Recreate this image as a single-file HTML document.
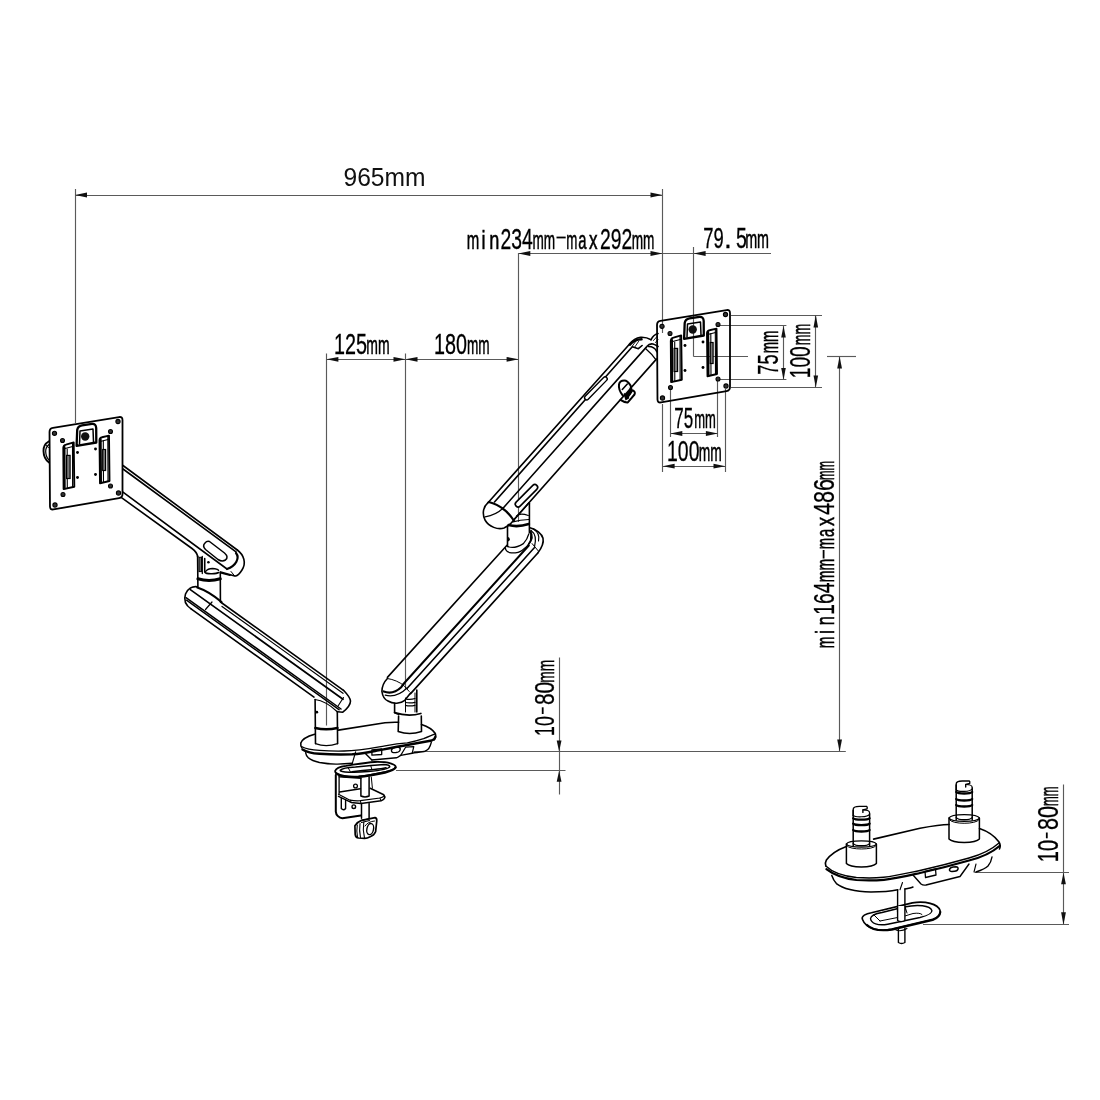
<!DOCTYPE html><html><head><meta charset="utf-8"><style>html,body{margin:0;padding:0;background:#fff;}svg{display:block;will-change:transform}</style></head><body>
<svg width="1100" height="1100" viewBox="0 0 1100 1100">
<rect width="1100" height="1100" fill="#fff"/>
<g>
<text x="466.71" y="248.6" font-family="Liberation Sans" font-size="26.0" fill="#000" stroke="#000" stroke-width="0.55" textLength="12.5" lengthAdjust="spacingAndGlyphs">m</text>
<text x="481.4" y="248.6" font-family="Liberation Sans" font-size="26.0" fill="#000" stroke="#000" stroke-width="0.55" textLength="4.0" lengthAdjust="spacingAndGlyphs">i</text>
<text x="489.28" y="248.6" font-family="Liberation Sans" font-size="26.0" fill="#000" stroke="#000" stroke-width="0.55" textLength="10.1" lengthAdjust="spacingAndGlyphs">n</text>
<text x="500.58" y="248.6" font-family="Liberation Sans" font-size="30.0" fill="#000" stroke="#000" stroke-width="0.3" textLength="32.26" lengthAdjust="spacingAndGlyphs">234</text>
<text x="532.38" y="248.6" font-family="Liberation Sans" font-size="26.0" fill="#000" stroke="#000" stroke-width="0.55" textLength="22.7" lengthAdjust="spacingAndGlyphs">mm</text>
<text x="566.18" y="248.6" font-family="Liberation Sans" font-size="26.0" fill="#000" stroke="#000" stroke-width="0.55" textLength="11.11" lengthAdjust="spacingAndGlyphs">m</text>
<text x="578.17" y="248.6" font-family="Liberation Sans" font-size="26.0" fill="#000" stroke="#000" stroke-width="0.55" textLength="8.27" lengthAdjust="spacingAndGlyphs">a</text>
<text x="588.92" y="248.6" font-family="Liberation Sans" font-size="26.0" fill="#000" stroke="#000" stroke-width="0.55" textLength="8.54" lengthAdjust="spacingAndGlyphs">x</text>
<text x="599.98" y="248.6" font-family="Liberation Sans" font-size="30.0" fill="#000" stroke="#000" stroke-width="0.3" textLength="32.26" lengthAdjust="spacingAndGlyphs">292</text>
<text x="631.75" y="248.6" font-family="Liberation Sans" font-size="26.0" fill="#000" stroke="#000" stroke-width="0.55" textLength="22.72" lengthAdjust="spacingAndGlyphs">mm</text>
</g>
<g>
<text x="703.36" y="248.4" font-family="Liberation Sans" font-size="30.0" fill="#000" stroke="#000" stroke-width="0.3" textLength="20.49" lengthAdjust="spacingAndGlyphs">79</text>
<text x="724.04" y="248.4" font-family="Liberation Sans" font-size="30.0" fill="#000" stroke="#000" stroke-width="0.3" textLength="7.86" lengthAdjust="spacingAndGlyphs">.</text>
<text x="735.9" y="248.4" font-family="Liberation Sans" font-size="30.0" fill="#000" stroke="#000" stroke-width="0.3" textLength="10.84" lengthAdjust="spacingAndGlyphs">5</text>
<text x="745.15" y="248.4" font-family="Liberation Sans" font-size="26.0" fill="#000" stroke="#000" stroke-width="0.55" textLength="23.9" lengthAdjust="spacingAndGlyphs">mm</text>
</g>
<g>
<text x="334.08" y="354.1" font-family="Liberation Sans" font-size="30.0" fill="#000" stroke="#000" stroke-width="0.3" textLength="32.97" lengthAdjust="spacingAndGlyphs">125</text>
<text x="366.34" y="354.1" font-family="Liberation Sans" font-size="26.0" fill="#000" stroke="#000" stroke-width="0.55" textLength="23.33" lengthAdjust="spacingAndGlyphs">mm</text>
</g>
<g>
<text x="434.08" y="354.1" font-family="Liberation Sans" font-size="30.0" fill="#000" stroke="#000" stroke-width="0.3" textLength="32.97" lengthAdjust="spacingAndGlyphs">180</text>
<text x="466.96" y="354.1" font-family="Liberation Sans" font-size="26.0" fill="#000" stroke="#000" stroke-width="0.55" textLength="22.7" lengthAdjust="spacingAndGlyphs">mm</text>
</g>
<g>
<text x="674.37" y="428" font-family="Liberation Sans" font-size="30.0" fill="#000" stroke="#000" stroke-width="0.3" textLength="18.87" lengthAdjust="spacingAndGlyphs">75</text>
<text x="694.16" y="428" font-family="Liberation Sans" font-size="26.0" fill="#000" stroke="#000" stroke-width="0.55" textLength="21.67" lengthAdjust="spacingAndGlyphs">mm</text>
</g>
<g>
<text x="667.08" y="460.7" font-family="Liberation Sans" font-size="30.0" fill="#000" stroke="#000" stroke-width="0.3" textLength="32.38" lengthAdjust="spacingAndGlyphs">100</text>
<text x="698.76" y="460.7" font-family="Liberation Sans" font-size="26.0" fill="#000" stroke="#000" stroke-width="0.55" textLength="23.07" lengthAdjust="spacingAndGlyphs">mm</text>
</g>
<g transform="translate(778.4,0) rotate(-90)">
<text x="-374.64" y="0" font-family="Liberation Sans" font-size="29" fill="#000" stroke="#000" stroke-width="0.3" textLength="20.28" lengthAdjust="spacingAndGlyphs">75</text>
<text x="-353.25" y="0" font-family="Liberation Sans" font-size="26.0" fill="#000" stroke="#000" stroke-width="0.55" textLength="22.7" lengthAdjust="spacingAndGlyphs">mm</text>
</g>
<g transform="translate(810.4,0) rotate(-90)">
<text x="-378.26" y="0" font-family="Liberation Sans" font-size="30.0" fill="#000" stroke="#000" stroke-width="0.3" textLength="31.9" lengthAdjust="spacingAndGlyphs">100</text>
<text x="-345.24" y="0" font-family="Liberation Sans" font-size="26.0" fill="#000" stroke="#000" stroke-width="0.55" textLength="21.29" lengthAdjust="spacingAndGlyphs">mm</text>
</g>
<g transform="translate(553.6,0) rotate(-90)">
<text x="-735.91" y="0" font-family="Liberation Sans" font-size="28" fill="#000" stroke="#000" stroke-width="0.3" textLength="19.72" lengthAdjust="spacingAndGlyphs">10</text>
<text x="-705.05" y="0" font-family="Liberation Sans" font-size="28" fill="#000" stroke="#000" stroke-width="0.3" textLength="23.28" lengthAdjust="spacingAndGlyphs">80</text>
<text x="-682.64" y="0" font-family="Liberation Sans" font-size="24" fill="#000" stroke="#000" stroke-width="0.55" textLength="22.9" lengthAdjust="spacingAndGlyphs">mm</text>
</g>
<g transform="translate(1057.7,0) rotate(-90)">
<text x="-862.29" y="0" font-family="Liberation Sans" font-size="30.0" fill="#000" stroke="#000" stroke-width="0.3" textLength="22.35" lengthAdjust="spacingAndGlyphs">10</text>
<text x="-830.05" y="0" font-family="Liberation Sans" font-size="30.0" fill="#000" stroke="#000" stroke-width="0.3" textLength="24.12" lengthAdjust="spacingAndGlyphs">80</text>
<text x="-806.04" y="0" font-family="Liberation Sans" font-size="26.0" fill="#000" stroke="#000" stroke-width="0.55" textLength="19.49" lengthAdjust="spacingAndGlyphs">mm</text>
</g>
<g transform="translate(834.4,0) rotate(-90)">
<text x="-648.32" y="0" font-family="Liberation Sans" font-size="26.0" fill="#000" stroke="#000" stroke-width="0.55" textLength="11.65" lengthAdjust="spacingAndGlyphs">m</text>
<text x="-634.0" y="0" font-family="Liberation Sans" font-size="26.0" fill="#000" stroke="#000" stroke-width="0.55" textLength="4.0" lengthAdjust="spacingAndGlyphs">i</text>
<text x="-625.15" y="0" font-family="Liberation Sans" font-size="26.0" fill="#000" stroke="#000" stroke-width="0.55" textLength="9.14" lengthAdjust="spacingAndGlyphs">n</text>
<text x="-614.69" y="0" font-family="Liberation Sans" font-size="30.0" fill="#000" stroke="#000" stroke-width="0.3" textLength="32.1" lengthAdjust="spacingAndGlyphs">164</text>
<text x="-582.24" y="0" font-family="Liberation Sans" font-size="26.0" fill="#000" stroke="#000" stroke-width="0.55" textLength="23.33" lengthAdjust="spacingAndGlyphs">mm</text>
<text x="-549.18" y="0" font-family="Liberation Sans" font-size="26.0" fill="#000" stroke="#000" stroke-width="0.55" textLength="11.31" lengthAdjust="spacingAndGlyphs">m</text>
<text x="-537.11" y="0" font-family="Liberation Sans" font-size="26.0" fill="#000" stroke="#000" stroke-width="0.55" textLength="8.15" lengthAdjust="spacingAndGlyphs">a</text>
<text x="-526.06" y="0" font-family="Liberation Sans" font-size="26.0" fill="#000" stroke="#000" stroke-width="0.55" textLength="9.06" lengthAdjust="spacingAndGlyphs">x</text>
<text x="-515.03" y="0" font-family="Liberation Sans" font-size="30.0" fill="#000" stroke="#000" stroke-width="0.3" textLength="36.07" lengthAdjust="spacingAndGlyphs">486</text>
<text x="-480.06" y="0" font-family="Liberation Sans" font-size="26.0" fill="#000" stroke="#000" stroke-width="0.55" textLength="19.06" lengthAdjust="spacingAndGlyphs">mm</text>
</g>
<line x1="556.5" y1="237.5" x2="565.7" y2="237.5" stroke="#000" stroke-width="1.8"/>
<line x1="542.7" y1="714" x2="542.7" y2="707.3" stroke="#000" stroke-width="1.8"/>
<line x1="1046.8" y1="838.3" x2="1046.8" y2="832.5" stroke="#000" stroke-width="1.8"/>
<line x1="823.6" y1="558.5" x2="823.6" y2="550" stroke="#000" stroke-width="1.8"/>
<line x1="75.5" y1="189" x2="75.5" y2="423" stroke="#5a5a5a" stroke-width="1.15"/>
<line x1="75" y1="195.5" x2="662.5" y2="195.5" stroke="#5a5a5a" stroke-width="1.15"/>
<path d="M75.00,195.00 L87.00,192.60 L87.00,197.40 Z" fill="#111"/>
<path d="M662.50,195.00 L650.50,197.40 L650.50,192.60 Z" fill="#111"/>
<line x1="662.5" y1="189" x2="662.5" y2="333" stroke="#5a5a5a" stroke-width="1.15"/>
<text x="343.5" y="186" font-family="Liberation Sans" font-size="25.2" fill="#111" textLength="82" lengthAdjust="spacingAndGlyphs">965mm</text>
<line x1="518.3" y1="253.5" x2="771" y2="253.5" stroke="#5a5a5a" stroke-width="1.15"/>
<path d="M518.30,253.50 L530.30,251.10 L530.30,255.90 Z" fill="#111"/>
<path d="M662.50,253.50 L650.50,255.90 L650.50,251.10 Z" fill="#111"/>
<path d="M693.60,253.50 L705.60,251.10 L705.60,255.90 Z" fill="#111"/>
<line x1="518.5" y1="253" x2="518.5" y2="522" stroke="#5a5a5a" stroke-width="1.15"/>
<line x1="693.5" y1="247" x2="693.5" y2="356.5" stroke="#5a5a5a" stroke-width="1.15"/>
<line x1="693.5" y1="356.5" x2="748" y2="356.5" stroke="#5a5a5a" stroke-width="1.15"/>
<line x1="326.4" y1="359.5" x2="518.6" y2="359.5" stroke="#5a5a5a" stroke-width="1.15"/>
<line x1="326.5" y1="353.6" x2="326.5" y2="725.5" stroke="#5a5a5a" stroke-width="1.15"/>
<line x1="405.5" y1="353.6" x2="405.5" y2="690" stroke="#5a5a5a" stroke-width="1.15"/>
<path d="M326.40,359.30 L338.40,356.90 L338.40,361.70 Z" fill="#111"/>
<path d="M405.50,359.30 L393.50,361.70 L393.50,356.90 Z" fill="#111"/>
<path d="M405.50,359.30 L417.50,356.90 L417.50,361.70 Z" fill="#111"/>
<path d="M518.60,359.30 L506.60,361.70 L506.60,356.90 Z" fill="#111"/>
<line x1="731" y1="315.5" x2="822" y2="315.5" stroke="#5a5a5a" stroke-width="1.15"/>
<line x1="720" y1="325.5" x2="786.4" y2="325.5" stroke="#5a5a5a" stroke-width="1.15"/>
<line x1="720" y1="379.5" x2="786.4" y2="379.5" stroke="#5a5a5a" stroke-width="1.15"/>
<line x1="731" y1="387.5" x2="822" y2="387.5" stroke="#5a5a5a" stroke-width="1.15"/>
<line x1="783.5" y1="325.9" x2="783.5" y2="379.7" stroke="#5a5a5a" stroke-width="1.15"/>
<path d="M783.50,325.90 L785.80,337.50 L781.20,337.50 Z" fill="#111"/>
<path d="M783.50,379.70 L781.20,368.10 L785.80,368.10 Z" fill="#111"/>
<line x1="815.5" y1="315" x2="815.5" y2="387.4" stroke="#5a5a5a" stroke-width="1.15"/>
<path d="M815.80,315.00 L818.10,327.50 L813.50,327.50 Z" fill="#111"/>
<path d="M815.80,387.40 L813.50,375.40 L818.10,375.40 Z" fill="#111"/>
<line x1="827" y1="356.5" x2="856" y2="356.5" stroke="#5a5a5a" stroke-width="1.15"/>
<line x1="839.5" y1="356.6" x2="839.5" y2="751.6" stroke="#5a5a5a" stroke-width="1.15"/>
<path d="M839.60,356.60 L842.00,368.60 L837.20,368.60 Z" fill="#111"/>
<path d="M839.60,751.60 L837.20,739.60 L842.00,739.60 Z" fill="#111"/>
<line x1="413.6" y1="751.5" x2="845.8" y2="751.5" stroke="#5a5a5a" stroke-width="1.15"/>
<line x1="662.5" y1="404" x2="662.5" y2="472" stroke="#5a5a5a" stroke-width="1.15"/>
<line x1="670.5" y1="389" x2="670.5" y2="437" stroke="#5a5a5a" stroke-width="1.15"/>
<line x1="717.5" y1="381" x2="717.5" y2="437" stroke="#5a5a5a" stroke-width="1.15"/>
<line x1="725.5" y1="389" x2="725.5" y2="472" stroke="#5a5a5a" stroke-width="1.15"/>
<line x1="670.3" y1="433.5" x2="717.9" y2="433.5" stroke="#5a5a5a" stroke-width="1.15"/>
<path d="M670.30,433.50 L682.30,431.10 L682.30,435.90 Z" fill="#111"/>
<path d="M717.90,433.50 L705.90,435.90 L705.90,431.10 Z" fill="#111"/>
<line x1="662.6" y1="466.5" x2="725.5" y2="466.5" stroke="#5a5a5a" stroke-width="1.15"/>
<path d="M662.60,466.20 L674.60,463.80 L674.60,468.60 Z" fill="#111"/>
<path d="M725.50,466.20 L713.50,468.60 L713.50,463.80 Z" fill="#111"/>
<line x1="559.5" y1="657.5" x2="559.5" y2="794.5" stroke="#5a5a5a" stroke-width="1.15"/>
<line x1="396" y1="770.5" x2="565.5" y2="770.5" stroke="#5a5a5a" stroke-width="1.15"/>
<path d="M559.10,751.60 L556.70,740.60 L561.50,740.60 Z" fill="#111"/>
<path d="M559.10,770.70 L561.50,781.70 L556.70,781.70 Z" fill="#111"/>
<line x1="974.5" y1="872.5" x2="1069" y2="872.5" stroke="#5a5a5a" stroke-width="1.15"/>
<line x1="923" y1="924.5" x2="1069" y2="924.5" stroke="#5a5a5a" stroke-width="1.15"/>
<line x1="1063.5" y1="784.5" x2="1063.5" y2="924.8" stroke="#5a5a5a" stroke-width="1.15"/>
<path d="M1063.50,872.70 L1065.90,884.20 L1061.10,884.20 Z" fill="#111"/>
<path d="M1063.50,924.80 L1061.10,912.30 L1065.90,912.30 Z" fill="#111"/>
<g id="plate">
<path d="M49.52,432.00 Q49.50,428.50 52.95,427.93 L119.05,417.07 Q122.50,416.50 122.50,420.00 L122.50,494.00 Q122.50,497.50 119.05,498.09 L53.45,509.41 Q50.00,510.00 49.98,506.50 Z" stroke="#000" stroke-width="1.8" fill="none" stroke-linejoin="round" stroke-linecap="round" />
<circle cx="54.5" cy="433.3" r="2.1" fill="#333" stroke="#000" stroke-width="1.1"/>
<circle cx="118" cy="421.5" r="2.1" fill="#333" stroke="#000" stroke-width="1.1"/>
<circle cx="118.5" cy="493" r="2.1" fill="#333" stroke="#000" stroke-width="1.1"/>
<circle cx="55" cy="505" r="2.1" fill="#333" stroke="#000" stroke-width="1.1"/>
<circle cx="62.5" cy="440.5" r="2.0" fill="#333" stroke="#000" stroke-width="1.1"/>
<circle cx="110.5" cy="431.5" r="2.0" fill="#333" stroke="#000" stroke-width="1.1"/>
<circle cx="110.5" cy="486" r="2.0" fill="#333" stroke="#000" stroke-width="1.1"/>
<circle cx="63" cy="494.5" r="2.0" fill="#333" stroke="#000" stroke-width="1.1"/>
<circle cx="77.5" cy="452.5" r="1.45" fill="#000"/>
<circle cx="95.5" cy="449" r="1.45" fill="#000"/>
<circle cx="77.5" cy="477.5" r="1.45" fill="#000"/>
<circle cx="95.5" cy="474.5" r="1.45" fill="#000"/>
<path d="M76.6,445.8 L77.2,430 Q77.8,426 82,425.3 L92,423.8 Q96,423.5 96.2,428 L96.3,442.5 Z" stroke="#000" stroke-width="2.3" fill="none" stroke-linejoin="round" stroke-linecap="round" />
<path d="M79.5,444 L80,431 L93,429 L93.5,442" stroke="#000" stroke-width="1.5" fill="none" stroke-linejoin="round" stroke-linecap="round" />
<circle cx="85.2" cy="436.5" r="4.2" fill="#111"/>
<path d="M63.3,447.7 Q63.5,445 66,444.6 L73.7,442.4 L74.3,486.7 L63.6,489.1 Z" stroke="#000" stroke-width="1.9" fill="none" stroke-linejoin="round" stroke-linecap="round" />
<path d="M64.6,447 L64.8,488.5" stroke="#000" stroke-width="1.8" fill="none" stroke-linejoin="round" stroke-linecap="round" />
<path d="M67.2,449 L67.3,487.8 M72.5,443.5 L72.6,486.5" stroke="#000" stroke-width="1.1" fill="none" stroke-linejoin="round" stroke-linecap="round" />
<path d="M64.2,448.8 L73.6,446.2" stroke="#000" stroke-width="1.1" fill="none" stroke-linejoin="round" stroke-linecap="round" />
<rect x="66.6" y="455.4" width="3.5" height="23.1" fill="#777" stroke="#000" stroke-width="1.2"/>
<path d="M99.5,440 Q99.8,437.6 102,437.2 L109,435.6 L109.5,481 L100,483.2 Z" stroke="#000" stroke-width="1.9" fill="none" stroke-linejoin="round" stroke-linecap="round" />
<path d="M100.8,439.5 L101.1,482.8" stroke="#000" stroke-width="1.8" fill="none" stroke-linejoin="round" stroke-linecap="round" />
<path d="M103.3,440.5 L103.5,482.2 M107.8,436.5 L108,480.5" stroke="#000" stroke-width="1.1" fill="none" stroke-linejoin="round" stroke-linecap="round" />
<path d="M100.3,441.5 L109,439.3" stroke="#000" stroke-width="1.1" fill="none" stroke-linejoin="round" stroke-linecap="round" />
<rect x="102.7" y="449.5" width="2.9" height="21" fill="#777" stroke="#000" stroke-width="1.2"/>
</g>
<use href="#plate" transform="translate(607.5,-107)"/>
<path d="M49,441.2 C45,443.5 43.3,447 43.5,451 C43.6,456 45.5,460 49,462.5" stroke="#000" stroke-width="1.9" fill="none" stroke-linejoin="round" stroke-linecap="round" />
<path d="M49,444.5 C46.5,446.5 45.6,449 45.7,451.5 C45.8,455 47,458 49,460" stroke="#000" stroke-width="1.2" fill="none" stroke-linejoin="round" stroke-linecap="round" />
<path d="M46,445.2 L48.5,447.5" stroke="#000" stroke-width="1.0" fill="none" stroke-linejoin="round" stroke-linecap="round" />
<path d="M123,465.5 L237.3,550" stroke="#000" stroke-width="1.6" fill="none" stroke-linejoin="round" stroke-linecap="round" />
<path d="M123,469 L236,551.8" stroke="#000" stroke-width="1.6" fill="none" stroke-linejoin="round" stroke-linecap="round" />
<path d="M123,492.2 L227,569" stroke="#000" stroke-width="1.6" fill="none" stroke-linejoin="round" stroke-linecap="round" />
<path d="M121.5,497.6 L192,548.5 Q197,552 197.8,557" stroke="#000" stroke-width="1.6" fill="none" stroke-linejoin="round" stroke-linecap="round" />
<path d="M237.3,550 C244,555 246.5,563 242,570 C239.5,574 237,576.5 234.7,576 L220.7,572" stroke="#000" stroke-width="1.6" fill="none" stroke-linejoin="round" stroke-linecap="round" />
<path d="M236,553 C240,558 236,566 227,569" stroke="#000" stroke-width="2.2" fill="none" stroke-linejoin="round" stroke-linecap="round" />
<path d="M231,571.5 L234.7,576" stroke="#000" stroke-width="1" fill="none" stroke-linejoin="round" stroke-linecap="round" />
<path d="M209.5,541.5 L224.5,553 Q229,557 225.5,560 Q222,562 218,559.5 L205.5,549.5 Q202,546 205,543 Q207,540.5 209.5,541.5 Z" stroke="#000" stroke-width="1.5" fill="none" stroke-linejoin="round" stroke-linecap="round" />
<path d="M197.6,556 L197.9,586.8" stroke="#000" stroke-width="1.6" fill="none" stroke-linejoin="round" stroke-linecap="round" />
<path d="M220.3,572 L220.4,601.8" stroke="#000" stroke-width="1.6" fill="none" stroke-linejoin="round" stroke-linecap="round" />
<path d="M197.9,578.8 Q209,582 220.3,578.8" stroke="#000" stroke-width="3.0" fill="none" stroke-linejoin="round" stroke-linecap="round" />
<rect x="199" y="557.3" width="2.5" height="14.3" fill="#666" stroke="#000" stroke-width="1"/>
<path d="M202.3,556.5 L202.3,573.6" stroke="#000" stroke-width="1.3" fill="none" stroke-linejoin="round" stroke-linecap="round" />
<path d="M204.7,558.5 L204.7,572 Q206,574 212,573.8 Q217,573.5 218.6,572.5" stroke="#000" stroke-width="1.6" fill="none" stroke-linejoin="round" stroke-linecap="round" />
<path d="M205.5,571.6 C207,569.5 210,568.5 212.5,568.5 C215.5,568.6 218,569.5 218.6,570.4" stroke="#000" stroke-width="1.3" fill="none" stroke-linejoin="round" stroke-linecap="round" />
<circle cx="208.4" cy="562.2" r="1.3" fill="#000"/>
<path d="M220.3,572.8 L230,575.3" stroke="#000" stroke-width="1.5" fill="none" stroke-linejoin="round" stroke-linecap="round" />
<path d="M220.5,602.0 L343.5,690.3" stroke="#000" stroke-width="1.6" fill="none" stroke-linejoin="round" stroke-linecap="round" />
<path d="M222,606.4 L343,693.3" stroke="#000" stroke-width="1.2" fill="none" stroke-linejoin="round" stroke-linecap="round" />
<path d="M190.3,589.6 L343,699.3" stroke="#000" stroke-width="1.7" fill="none" stroke-linejoin="round" stroke-linecap="round" />
<path d="M186,597.7 L341,709.0" stroke="#000" stroke-width="1.5" fill="none" stroke-linejoin="round" stroke-linecap="round" />
<path d="M186.5,600.2 L339,709.7" stroke="#000" stroke-width="1.5" fill="none" stroke-linejoin="round" stroke-linecap="round" />
<path d="M191.4,609.1 L314,697.1" stroke="#000" stroke-width="1.6" fill="none" stroke-linejoin="round" stroke-linecap="round" />
<path d="M197.3,586.8 C192,586 187.5,589 185.5,594 C183.5,600 185,605 191.4,609.1" stroke="#000" stroke-width="1.6" fill="none" stroke-linejoin="round" stroke-linecap="round" />
<path d="M197.3,587.5 C205,590 212,594 221.5,602" stroke="#000" stroke-width="2.2" fill="none" stroke-linejoin="round" stroke-linecap="round" />
<path d="M212,602 L205.5,609.5" stroke="#000" stroke-width="1.2" fill="none" stroke-linejoin="round" stroke-linecap="round" />
<path d="M343.5,690.3 Q350,697 350.5,701 Q350.5,706 342.8,712.2 L337.5,711.8" stroke="#000" stroke-width="1.6" fill="none" stroke-linejoin="round" stroke-linecap="round" />
<path d="M343.5,697.5 L338.2,705.8" stroke="#000" stroke-width="1.1" fill="none" stroke-linejoin="round" stroke-linecap="round" />
<path d="M315.1,699.5 L315.5,743.6" stroke="#000" stroke-width="1.6" fill="none" stroke-linejoin="round" stroke-linecap="round" />
<path d="M337.3,711.5 L337.6,743.6" stroke="#000" stroke-width="1.6" fill="none" stroke-linejoin="round" stroke-linecap="round" />
<path d="M315,699.5 Q326,701 337,711.5" stroke="#000" stroke-width="1.2" fill="none" stroke-linejoin="round" stroke-linecap="round" />
<path d="M315.3,728 Q326,730.5 337.5,728" stroke="#000" stroke-width="2.4" fill="none" stroke-linejoin="round" stroke-linecap="round" />
<circle cx="316.8" cy="712.2" r="1.4" fill="#000"/>
<path d="M488,502.7 L629.4,344.2 C632,341 636,338 640.5,337.3 C645,337 649,338.5 651.1,339.7" stroke="#000" stroke-width="1.6" fill="none" stroke-linejoin="round" stroke-linecap="round" />
<path d="M651.1,339.7 C652.5,336.5 655,334.5 658,333.6" stroke="#000" stroke-width="1.6" fill="none" stroke-linejoin="round" stroke-linecap="round" />
<path d="M653.5,340.5 L657,336.5 M655.5,342.5 L658,339.5" stroke="#000" stroke-width="0.9" fill="none" stroke-linejoin="round" stroke-linecap="round" />
<path d="M629.8,344.5 C633,341 637,339.3 641.5,339.2" stroke="#000" stroke-width="2.6" fill="none" stroke-linejoin="round" stroke-linecap="round" />
<path d="M632.2,346.2 L636.3,340.6 M634.6,347.3 L638.6,341.4" stroke="#000" stroke-width="0.9" fill="none" stroke-linejoin="round" stroke-linecap="round" />
<path d="M494.5,502 L632.3,346.7 L638.4,348.7 L642.1,345.5" stroke="#000" stroke-width="1.6" fill="none" stroke-linejoin="round" stroke-linecap="round" />
<path d="M502.8,508.5 L646.8,346.6 C648.5,344.5 651,343.5 653,344 C655,344.5 656.5,345.5 658,346.5" stroke="#000" stroke-width="1.6" fill="none" stroke-linejoin="round" stroke-linecap="round" />
<path d="M645.5,348.5 C649,351.5 653,355.5 656,359.8" stroke="#000" stroke-width="1.3" fill="none" stroke-linejoin="round" stroke-linecap="round" />
<path d="M648.5,346.5 C652,346.5 655.5,348.5 656.8,351.6" stroke="#000" stroke-width="1.6" fill="none" stroke-linejoin="round" stroke-linecap="round" />
<path d="M513.5,520.2 L656.4,359.1" stroke="#000" stroke-width="1.6" fill="none" stroke-linejoin="round" stroke-linecap="round" />
<path d="M586.7,397.7 L605.1,378.9" stroke="#000" stroke-width="5.6" stroke-linecap="round"/>
<path d="M586.7,397.7 L605.1,378.9" stroke="#fff" stroke-width="2.8000000000000003" stroke-linecap="round"/>
<path d="M518.1,504.1 L534.8,487.4" stroke="#000" stroke-width="7.199999999999999" stroke-linecap="round"/>
<path d="M518.1,504.1 L534.8,487.4" stroke="#fff" stroke-width="3.9999999999999996" stroke-linecap="round"/>
<path d="M623.5,394 L629,387.5 L633,391 L629,398.5 L625.5,400.5 Z" fill="#000"/>
<path d="M622.7,395.4 C620,392 618.5,388 619,384.5 C619.5,381.5 621.5,380.5 624.3,380.5 C626.5,380.5 628.5,382 630.7,385.8 L631.5,390" stroke="#000" stroke-width="2.0" fill="none" stroke-linejoin="round" stroke-linecap="round" />
<path d="M622.3,389.5 L627.3,384" stroke="#000" stroke-width="1.6" fill="none" stroke-linejoin="round" stroke-linecap="round" />
<path d="M620.5,399.8 C623,401.5 625.5,402.6 627.8,402.4 L634.5,394.5 C635.5,392.5 634.5,390.5 631.6,390.3" stroke="#000" stroke-width="2.0" fill="none" stroke-linejoin="round" stroke-linecap="round" />
<path d="M624,392.5 L628.5,387.5 L629.5,388.5 L625,393.6 Z" fill="#fff"/>
<path d="M629.5,398.5 L633,394 Q633.5,392.5 632.5,392.5 L629,397 Z" fill="#fff"/>
<path d="M488,502.7 C483,507 482,514 485,520 C489,527 498,530 504,528 Q509,526 513.5,520.5" stroke="#000" stroke-width="1.6" fill="none" stroke-linejoin="round" stroke-linecap="round" />
<path d="M485.1,516.8 Q496,515 502.7,508.5" stroke="#000" stroke-width="1.2" fill="none" stroke-linejoin="round" stroke-linecap="round" />
<path d="M488.8,502 C497,504 507,510 513.8,520.5" stroke="#000" stroke-width="2.2" fill="none" stroke-linejoin="round" stroke-linecap="round" />
<path d="M513.5,520.2 L529,502.7" stroke="#000" stroke-width="1.4" fill="none" stroke-linejoin="round" stroke-linecap="round" />
<path d="M507.5,526.2 L507.5,546.4" stroke="#000" stroke-width="1.6" fill="none" stroke-linejoin="round" stroke-linecap="round" />
<path d="M529.4,503.3 L529.4,532.7" stroke="#000" stroke-width="1.6" fill="none" stroke-linejoin="round" stroke-linecap="round" />
<path d="M516.5,516 Q520,512.5 528.3,515.5" stroke="#000" stroke-width="1.2" fill="none" stroke-linejoin="round" stroke-linecap="round" />
<path d="M513,521.8 Q520,520 528.8,519.5" stroke="#000" stroke-width="1.2" fill="none" stroke-linejoin="round" stroke-linecap="round" />
<path d="M508.6,525.1 Q518,527.5 528.8,524" stroke="#000" stroke-width="2.6" fill="none" stroke-linejoin="round" stroke-linecap="round" />
<path d="M507.5,546.4 Q514,549.5 523.4,543.6 Q527.5,539 528.8,533.8" stroke="#000" stroke-width="1.3" fill="none" stroke-linejoin="round" stroke-linecap="round" />
<path d="M505.4,548 Q505.5,552 511.4,552.9 Q519,553 522.3,550.2 Q528,546 530.5,541.5 L531,530.5" stroke="#000" stroke-width="1.3" fill="none" stroke-linejoin="round" stroke-linecap="round" />
<path d="M507.6,537 A2.2,2.2 0 0 1 507.6,541.5 Z" fill="#000"/>
<path d="M387.4,677.4 L507,545.3" stroke="#000" stroke-width="1.6" fill="none" stroke-linejoin="round" stroke-linecap="round" />
<path d="M403.4,684.0 L528.8,545.5" stroke="#000" stroke-width="2.0" fill="none" stroke-linejoin="round" stroke-linecap="round" />
<path d="M407,688.5 L534.3,547.8" stroke="#000" stroke-width="1.6" fill="none" stroke-linejoin="round" stroke-linecap="round" />
<path d="M410.6,693.6 L537.6,553.3" stroke="#000" stroke-width="1.6" fill="none" stroke-linejoin="round" stroke-linecap="round" />
<path d="M529.9,527.8 C536,529 542,534 543,538.2 C544,543 541,549 537.6,553.3" stroke="#000" stroke-width="1.6" fill="none" stroke-linejoin="round" stroke-linecap="round" />
<path d="M531,530.5 Q537.5,535 534.5,546.8" stroke="#000" stroke-width="1.2" fill="none" stroke-linejoin="round" stroke-linecap="round" />
<path d="M530.5,532 Q534,537 528.8,544" stroke="#000" stroke-width="1.8" fill="none" stroke-linejoin="round" stroke-linecap="round" />
<path d="M533,528.8 Q540.5,533.5 538.5,541" stroke="#000" stroke-width="1.1" fill="none" stroke-linejoin="round" stroke-linecap="round" />
<path d="M532.1,543.6 L538.1,550.7" stroke="#000" stroke-width="1.0" fill="none" stroke-linejoin="round" stroke-linecap="round" />
<path d="M387.4,678.5 Q382,684 381.9,691.5 Q383,699 388,701 Q392,703.5 396.8,703.2 Q402,702.5 404.8,700.3 L410.6,693" stroke="#000" stroke-width="1.6" fill="none" stroke-linejoin="round" stroke-linecap="round" />
<path d="M387.4,678.5 Q397,680 404,685.7 L409.2,691.5" stroke="#000" stroke-width="1" fill="none" stroke-linejoin="round" stroke-linecap="round" />
<path d="M383.7,691.5 Q393,695 401.2,687.2 L403.4,684.3" stroke="#000" stroke-width="2.2" fill="none" stroke-linejoin="round" stroke-linecap="round" />
<path d="M385.2,695.2 Q397,698 407,688" stroke="#000" stroke-width="1.2" fill="none" stroke-linejoin="round" stroke-linecap="round" />
<path d="M394.6,703.2 L394.6,712.6 Q398,714.5 399,714" stroke="#000" stroke-width="1.6" fill="none" stroke-linejoin="round" stroke-linecap="round" />
<path d="M416.8,690 L416.8,712" stroke="#000" stroke-width="1.6" fill="none" stroke-linejoin="round" stroke-linecap="round" />
<path d="M405.5,698 L405.5,712 M415,693 L415,712" stroke="#000" stroke-width="1" fill="none" stroke-linejoin="round" stroke-linecap="round" />
<path d="M405.5,698.8 Q410,700 415,698.5 M405.5,702.5 Q410,703.5 415,702.3 M405.5,705.4 Q410,706.5 415,705.3" stroke="#000" stroke-width="1.2" fill="none" stroke-linejoin="round" stroke-linecap="round" />
<path d="M398.6,716 L398.2,731.4 Q409.5,735.5 421.5,731.4 L421.3,716" stroke="#000" stroke-width="1.6" fill="none" stroke-linejoin="round" stroke-linecap="round" />
<path d="M394.6,712.6 Q408,717 420.8,713.5" stroke="#000" stroke-width="1.8" fill="none" stroke-linejoin="round" stroke-linecap="round" />
<path d="M314.6,734.2 C308,736 302,739.5 300.8,743 C300.5,745.5 301,747 302,748" stroke="#000" stroke-width="1.6" fill="none" stroke-linejoin="round" stroke-linecap="round" />
<path d="M338.4,730.1 L385,722.8 Q392,722 398.6,722.3" stroke="#000" stroke-width="1.6" fill="none" stroke-linejoin="round" stroke-linecap="round" />
<path d="M421.5,724.5 C428,726.5 433,730 435.3,733.5 C436.2,736 435.8,738 434,740" stroke="#000" stroke-width="1.6" fill="none" stroke-linejoin="round" stroke-linecap="round" />
<path d="M301.5,746.5 C306,749 312,750 319.5,750.4 C328,751 336,751.2 344.1,751 C360,750.5 372,748 385,745.8 C395,744 402,743.2 407.3,742.8 C414,741.5 420,739.8 423.6,738.6 C428,737 432,735 435.3,733.8" stroke="#000" stroke-width="1.3" fill="none" stroke-linejoin="round" stroke-linecap="round" />
<path d="M302.5,749.5 C307,752.5 313,753.5 319.5,753.8 C330,754.5 340,754.6 352.3,754.3 C362,753.8 370,752 376.8,750.6 C388,748.5 398,746.6 408.4,744.8 C418,743 426,741.5 431.8,740.5 C434,739.5 435,738.5 435.3,737" stroke="#000" stroke-width="2.4" fill="none" stroke-linejoin="round" stroke-linecap="round" />
<path d="M305.6,752.6 C306,755 307,756.5 308.1,757.6 C311,760 315,761.5 319.5,762.5 C325,763.5 330,764 335.9,764.1 C341,764.2 347,763.8 352.3,763.3" stroke="#000" stroke-width="1.4" fill="none" stroke-linejoin="round" stroke-linecap="round" />
<path d="M371.9,760 C375,759.6 378,759.5 380,759.3 C386,758.8 392,758.2 396.4,757.8 C398,757.2 398.8,756.8 399.1,756.3 L400.7,755.4 L412.2,753.2 C416,752.5 420,752 424.7,751.4 C426.5,750.5 427.5,750 428.6,748.8 C430,746.5 430.8,744.5 431.3,742.3" stroke="#000" stroke-width="1.4" fill="none" stroke-linejoin="round" stroke-linecap="round" />
<path d="M355.6,751.8 L352.3,763.3" stroke="#000" stroke-width="1.2" fill="none" stroke-linejoin="round" stroke-linecap="round" />
<path d="M365.4,753.5 L371.9,760" stroke="#000" stroke-width="1.4" fill="none" stroke-linejoin="round" stroke-linecap="round" />
<path d="M400.7,755.4 L405.6,747.2 L413.8,746.6 L412.2,753.2" stroke="#000" stroke-width="1.2" fill="none" stroke-linejoin="round" stroke-linecap="round" />
<path d="M371.9,749.8 L381.7,749 L381.7,754.5 L371.9,755.2 Z" stroke="#000" stroke-width="1.3" fill="none" stroke-linejoin="round" stroke-linecap="round" />
<path d="M391.5,750 Q392,747.8 395.5,747.4 L398.5,747.2 Q400.5,747.6 400.2,749.5 Q399.8,752.2 396,752.5 L393.5,752.6 Q391.2,752.4 391.5,750 Z" stroke="#000" stroke-width="1.4" fill="none" stroke-linejoin="round" stroke-linecap="round" />
<path d="M315.5,743.6 Q326,747.5 337.6,743.6" stroke="#000" stroke-width="1.3" fill="none" stroke-linejoin="round" stroke-linecap="round" />
<path d="M335.1,770.9 C336,768 340,766.5 345.9,765.8 C355,764.5 365,762.7 374.6,762 C382,761.8 387,762.3 390.5,763.3 C394,764.3 396,765.5 395.6,767.1 C395,769.5 388,771.5 380.9,772.8 C373,774.5 365,776 358.6,776.6 C350,777 342,776.5 339.5,775.4 C336.5,774 335,772.5 335.1,770.9 Z" stroke="#000" stroke-width="1.8" fill="none" stroke-linejoin="round" stroke-linecap="round" />
<path d="M340.2,770.3 C342,768.5 348,767.5 355.5,767.1 C365,766 375,765 384.1,764.5 C387,764.5 389.5,765.5 389.8,766.8 C389,768.5 380,770.5 368.2,771.6 C360,772.3 354,772.5 349.1,772.2 C343,771.8 340,771.3 340.2,770.3 Z" stroke="#000" stroke-width="1.5" fill="none" stroke-linejoin="round" stroke-linecap="round" />
<path d="M336.5,773.5 C341,776 350,777.2 358.6,776.8 C368,776 378,774 385,772.5 C391,771 394.5,769.5 395.6,767.5" stroke="#000" stroke-width="2.4" fill="none" stroke-linejoin="round" stroke-linecap="round" />
<path d="M350.4,771.8 L348.3,768 M370.7,765.6 L372,769.8" stroke="#000" stroke-width="1.0" fill="none" stroke-linejoin="round" stroke-linecap="round" />
<path d="M352,771.8 Q362,770.5 374,769.5 Q382,768.8 386,767.8" stroke="#000" stroke-width="1.6" fill="none" stroke-linejoin="round" stroke-linecap="round" />
<path d="M335.8,775 L335.8,811.6 C336,815 339,818.2 342.4,818.2 L360.9,815.5" stroke="#000" stroke-width="2.0" fill="none" stroke-linejoin="round" stroke-linecap="round" />
<path d="M339.1,776.2 L339.1,793.6" stroke="#000" stroke-width="1.3" fill="none" stroke-linejoin="round" stroke-linecap="round" />
<path d="M339.1,777 L361,778.5" stroke="#000" stroke-width="1.0" fill="none" stroke-linejoin="round" stroke-linecap="round" />
<circle cx="355.5" cy="786" r="1.9" fill="none" stroke="#000" stroke-width="1.3"/>
<path d="M339.6,792 L360.4,788.7 M370.2,788.2 L383.8,794.7 Q385.5,796.5 384.4,798.5 Q383,800.2 381.1,800.7 L360.9,803.5 L351.1,802.4 L338.5,796.4" stroke="#000" stroke-width="1.5" fill="none" stroke-linejoin="round" stroke-linecap="round" />
<path d="M338.5,794.2 L350,800.2 Q355,801 360.4,800.7 L380,798 Q383.5,797.3 384.2,795.5" stroke="#000" stroke-width="1.2" fill="none" stroke-linejoin="round" stroke-linecap="round" />
<path d="M350.5,800.2 L351.1,802.4 M360.4,800.7 L360.9,803.5 M380,798 L380.8,800.7" stroke="#000" stroke-width="1.0" fill="none" stroke-linejoin="round" stroke-linecap="round" />
<path d="M360.9,778 L360.9,796 Q365,797.8 369.1,796 L369.1,777" stroke="#000" stroke-width="1.5" fill="none" stroke-linejoin="round" stroke-linecap="round" />
<path d="M371.3,777 L372.4,788.2" stroke="#000" stroke-width="1.0" fill="none" stroke-linejoin="round" stroke-linecap="round" />
<path d="M361.5,803.5 L361.5,818.2 M369.1,803.5 L369.1,818.2" stroke="#000" stroke-width="1.5" fill="none" stroke-linejoin="round" stroke-linecap="round" />
<path d="M341.3,798.5 L341.3,808.5 Q343.5,811 345.6,808.5 L345.6,800.5" stroke="#000" stroke-width="1.4" fill="none" stroke-linejoin="round" stroke-linecap="round" />
<circle cx="353.8" cy="806.7" r="1.8" fill="none" stroke="#000" stroke-width="1.4"/>
<path d="M354.9,825.8 C357,823 359,821.2 361.5,820.4 L375.1,817.6 C376.5,818 377,819.5 376.7,821.5 L375.6,831.8 C374.5,834.5 372.5,836 370.2,836.7 C368,837.8 366.5,838.3 364.7,838.4 L358.5,838 C356.5,837.8 355.5,836.5 355.2,834.5 L354.9,825.8 Z" stroke="#000" stroke-width="1.7" fill="none" stroke-linejoin="round" stroke-linecap="round" />
<path d="M357.3,825 Q356.3,831 357.5,837 M360,823.5 Q359,830.5 360.5,837.5 M363.8,822 Q362.5,830 364.5,838" stroke="#000" stroke-width="1.1" fill="none" stroke-linejoin="round" stroke-linecap="round" />
<path d="M361.5,820.4 L369.5,818.8 M361.5,822.5 L369.5,820.5" stroke="#000" stroke-width="1.1" fill="none" stroke-linejoin="round" stroke-linecap="round" />
<ellipse cx="370.2" cy="829.1" rx="3.3" ry="5.6" transform="rotate(12 370.2 829.1)" fill="none" stroke="#000" stroke-width="1.4"/>
<path d="M365,826 Q368,821.5 374.5,821" stroke="#000" stroke-width="1.0" fill="none" stroke-linejoin="round" stroke-linecap="round" />
<path d="M846.4,846.4 C838,849.5 830,855 826.4,860 C825,862.5 825.2,864.5 825.8,866" stroke="#000" stroke-width="1.6" fill="none" stroke-linejoin="round" stroke-linecap="round" />
<path d="M873.6,839.1 L920,828.2 C935,825.5 942,824.6 949,824.5" stroke="#000" stroke-width="1.6" fill="none" stroke-linejoin="round" stroke-linecap="round" />
<path d="M979.5,828.5 C987,831 995,836.5 999,842 C1000.5,844.5 1000.5,847 999.5,849" stroke="#000" stroke-width="1.6" fill="none" stroke-linejoin="round" stroke-linecap="round" />
<path d="M825.8,866 C832,872 842,876 856.4,877.5 C868,878.3 876,878 883.6,877.3 C896,876 908,873 920,870.5 C940,866 955,862 969,858 C980,855 990,851 999,843" stroke="#000" stroke-width="1.4" fill="none" stroke-linejoin="round" stroke-linecap="round" />
<path d="M826.4,869.1 C834,875 843,878.5 856.4,880 C868,880.8 876,880.5 884,879.8 C897,878.5 909,875.5 920,873 C940,868.5 955,864.5 969,860.5 C981,857.5 991,853.5 999.5,846" stroke="#000" stroke-width="2.2" fill="none" stroke-linejoin="round" stroke-linecap="round" />
<path d="M831.8,875.5 C833,879 834.5,881.5 836.4,883.6 C842,888 852,891.5 871,892 C885,892 893,890.8 897.7,889.8" stroke="#000" stroke-width="1.5" fill="none" stroke-linejoin="round" stroke-linecap="round" />
<path d="M904.9,889 C908,888.5 911,888 913,887" stroke="#000" stroke-width="1.4" fill="none" stroke-linejoin="round" stroke-linecap="round" />
<path d="M902.5,882.5 L900,889.8" stroke="#000" stroke-width="1.1" fill="none" stroke-linejoin="round" stroke-linecap="round" />
<path d="M913,875 L921,884 Q923,885.5 926,885 L960,876.5 L969,864" stroke="#000" stroke-width="1.4" fill="none" stroke-linejoin="round" stroke-linecap="round" />
<path d="M976,872 C982,870 986,868 988,866 C990.5,863 991.5,860 992,857" stroke="#000" stroke-width="1.4" fill="none" stroke-linejoin="round" stroke-linecap="round" />
<path d="M976,864 L974,872" stroke="#000" stroke-width="1.1" fill="none" stroke-linejoin="round" stroke-linecap="round" />
<path d="M925,871.5 L935.5,869 L936,875 L925.5,877.5 Z" stroke="#000" stroke-width="1.3" fill="none" stroke-linejoin="round" stroke-linecap="round" />
<path d="M949.5,869.5 Q950,867.5 953,867 L956,866.8 Q958.5,867 958,869 Q957.5,871 954.5,871.3 L952,871.5 Q949.3,871.5 949.5,869.5 Z" stroke="#000" stroke-width="1.5" fill="none" stroke-linejoin="round" stroke-linecap="round" />
<path d="M846.4,844 L846.4,863.6 C850.4,868.1 872.4,868.1 876.4,863.6 L876.4,844" stroke="#000" stroke-width="1.5" fill="none" stroke-linejoin="round" stroke-linecap="round" />
<path d="M846.4,844 C848.4,839.84 874.4,839.84 876.4,844 C874.4,848.16 848.4,848.16 846.4,844 Z" stroke="#000" stroke-width="1.3" fill="none" stroke-linejoin="round" stroke-linecap="round" />
<path d="M846.9,845.8 C849.4,850.16 873.4,850.16 875.9,845.8" stroke="#000" stroke-width="1.0" fill="none" stroke-linejoin="round" stroke-linecap="round" />
<path d="M853.1999999999999,845.92 L853.1999999999999,810.4 M869.6,845.92 L869.6,813.4" stroke="#000" stroke-width="1.5" fill="none" stroke-linejoin="round" stroke-linecap="round" />
<path d="M853.1999999999999,843.5 C855.1999999999999,846.5 867.6,846.5 869.6,843.5" stroke="#000" stroke-width="1.3" fill="none" stroke-linejoin="round" stroke-linecap="round" />
<path d="M853.1999999999999,818.2 C855.1999999999999,820.2 867.6,820.2 869.6,818.2" stroke="#000" stroke-width="2.3" fill="none" stroke-linejoin="round" stroke-linecap="round" />
<path d="M853.1999999999999,823.6 C855.1999999999999,825.6 867.6,825.6 869.6,823.6" stroke="#000" stroke-width="2.3" fill="none" stroke-linejoin="round" stroke-linecap="round" />
<path d="M853.1999999999999,830 C855.1999999999999,832 867.6,832 869.6,830" stroke="#000" stroke-width="2.3" fill="none" stroke-linejoin="round" stroke-linecap="round" />
<path d="M853.1999999999999,815.4 L853.1999999999999,809.4 Q853.1999999999999,806.4 859.4,806.4 L866.6,806.4 Q867.6,806.9 867.1,808.9 L862.9,809.9 L862.9,812.4" stroke="#000" stroke-width="1.4" fill="none" stroke-linejoin="round" stroke-linecap="round" />
<path d="M862.9,809.9 Q869.6,809.9 869.6,812.9" stroke="#000" stroke-width="1.2" fill="none" stroke-linejoin="round" stroke-linecap="round" />
<path d="M853.1999999999999,815.4 C855.1999999999999,817.4 867.6,817.4 869.6,814.4" stroke="#000" stroke-width="1.2" fill="none" stroke-linejoin="round" stroke-linecap="round" />
<path d="M949.0,818 L949.0,839 C953.0,843.5 975.4000000000001,843.5 979.4000000000001,839 L979.4000000000001,818" stroke="#000" stroke-width="1.5" fill="none" stroke-linejoin="round" stroke-linecap="round" />
<path d="M949.0,818 C951.0,813.45 977.4000000000001,813.45 979.4000000000001,818 C977.4000000000001,822.55 951.0,822.55 949.0,818 Z" stroke="#000" stroke-width="1.3" fill="none" stroke-linejoin="round" stroke-linecap="round" />
<path d="M949.5,819.8 C952.0,824.55 976.4000000000001,824.55 978.9000000000001,819.8" stroke="#000" stroke-width="1.0" fill="none" stroke-linejoin="round" stroke-linecap="round" />
<path d="M956.2,820.1 L956.2,785 M972.2,820.1 L972.2,788" stroke="#000" stroke-width="1.5" fill="none" stroke-linejoin="round" stroke-linecap="round" />
<path d="M956.2,817.5 C958.2,820.5 970.2,820.5 972.2,817.5" stroke="#000" stroke-width="1.3" fill="none" stroke-linejoin="round" stroke-linecap="round" />
<path d="M956.2,792 C958.2,794 970.2,794 972.2,792" stroke="#000" stroke-width="2.3" fill="none" stroke-linejoin="round" stroke-linecap="round" />
<path d="M956.2,799 C958.2,801 970.2,801 972.2,799" stroke="#000" stroke-width="2.3" fill="none" stroke-linejoin="round" stroke-linecap="round" />
<path d="M956.2,805 C958.2,807 970.2,807 972.2,805" stroke="#000" stroke-width="2.3" fill="none" stroke-linejoin="round" stroke-linecap="round" />
<path d="M956.2,790 L956.2,784 Q956.2,781 962.2,781 L969.2,781 Q970.2,781.5 969.7,783.5 L965.7,784.5 L965.7,787" stroke="#000" stroke-width="1.4" fill="none" stroke-linejoin="round" stroke-linecap="round" />
<path d="M965.7,784.5 Q972.2,784.5 972.2,787.5" stroke="#000" stroke-width="1.2" fill="none" stroke-linejoin="round" stroke-linecap="round" />
<path d="M956.2,790 C958.2,792 970.2,792 972.2,789" stroke="#000" stroke-width="1.2" fill="none" stroke-linejoin="round" stroke-linecap="round" />
<path d="M897.6,889.8 L897.6,912 M904.9,889 L904.9,910" stroke="#000" stroke-width="1.4" fill="none" stroke-linejoin="round" stroke-linecap="round" />
<path d="M862.4,919.3 C861,916 866,913.5 871.4,912.7 L912.3,902.9 C925,900.5 938,904 940.1,910.5 C941,914.5 937,917.5 932.7,919.3 L891.8,929.1 C880,931.5 866,929.5 862.4,919.3 Z" stroke="#000" stroke-width="1.6" fill="none" stroke-linejoin="round" stroke-linecap="round" />
<path d="M867,925 C872,930 882,931 891.8,929.6 L932.7,920 C937,918.5 940,915.5 940.3,912" stroke="#000" stroke-width="2.2" fill="none" stroke-linejoin="round" stroke-linecap="round" />
<path d="M870.5,918.5 C871,915.5 876,913.5 882,912.5 L904.1,907 C918,904 930,905.5 931.9,910.5 C932.5,913.5 927,915.8 920,917.5 L887.7,924.2 C878,926 871,923.5 870.5,918.5 Z" stroke="#000" stroke-width="1.4" fill="none" stroke-linejoin="round" stroke-linecap="round" />
<path d="M874,915 L880,921 M905,906.5 L907,913" stroke="#000" stroke-width="1.0" fill="none" stroke-linejoin="round" stroke-linecap="round" />
<path d="M880,921 L897.6,917.5 M904.9,916 L913,913.5 Q920,912.5 922,914.5" stroke="#000" stroke-width="1.0" fill="none" stroke-linejoin="round" stroke-linecap="round" />
<path d="M897.6,906 L897.6,920.5 Q901,922.8 904.9,920.5 L904.9,906" fill="#fff" stroke="#000" stroke-width="1.4"/>
<path d="M898.4,929 L898.4,942.5 Q901.5,944.5 904.9,942.5 L904.9,928" stroke="#000" stroke-width="1.4" fill="none" stroke-linejoin="round" stroke-linecap="round" />
<path d="M896,930 Q901,932 907,928.5" stroke="#000" stroke-width="1.1" fill="none" stroke-linejoin="round" stroke-linecap="round" />
</svg></body></html>
